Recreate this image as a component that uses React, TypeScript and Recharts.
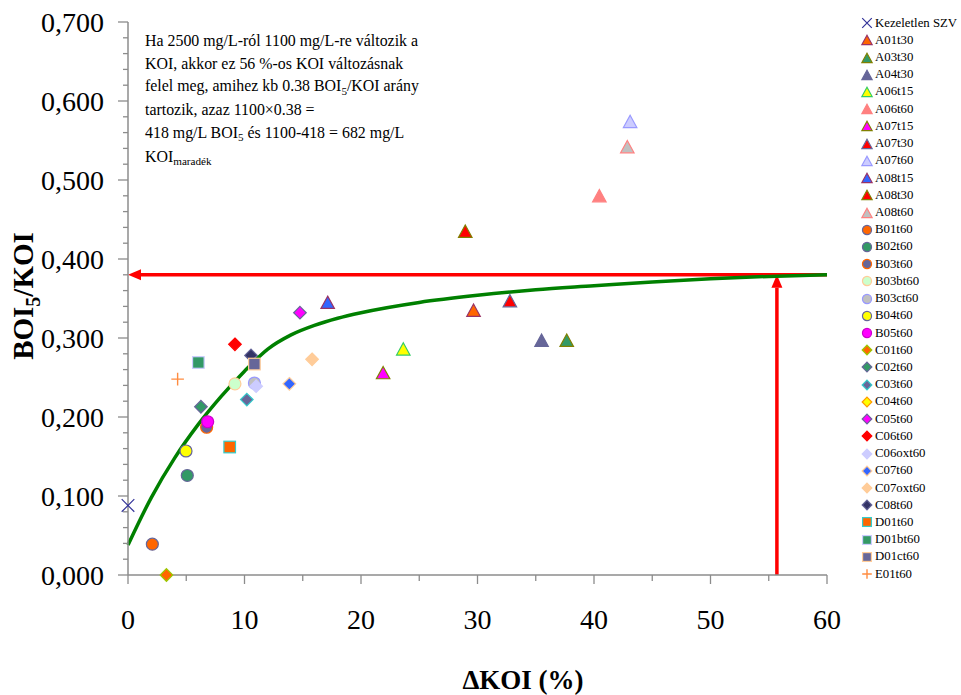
import React from "react";
import { ComposedChart, Scatter, Line, XAxis, YAxis, ReferenceLine } from "recharts";

// one point per treatment (null = not visible)
const seriesNames = [
  "Kezeletlen SZV", "A01t30", "A03t30", "A04t30", "A06t15", "A06t60", "A07t15", "A07t30",
  "A07t60", "A08t15", "A08t30", "A08t60", "B01t60", "B02t60", "B03t60", "B03bt60",
  "B03ct60", "B04t60", "B05t60", "C01t60", "C02t60", "C03t60", "C04t60", "C05t60",
  "C06t60", "C06oxt60", "C07t60", "C07oxt60", "C08t60", "D01t60", "D01bt60", "D01ct60",
  "E01t60",
];
const dKoi = [
  0, 29.66, 37.66, 35.5, 23.63, 40.46, 21.9, 32.78,
  43.1, 17.14, 28.95, 42.86, 2.09, 5.09, 6.75, 9.18,
  10.85, 4.98, 6.84, 3.3, 6.26, 10.2, null, 14.76,
  9.18, 11.0, 13.85, 15.8, 10.56, 8.73, 6.04, 10.85,
  4.26,
];
const boiKoi = [
  0.088, 0.335, 0.297, 0.297, 0.286, 0.48, 0.256, 0.347,
  0.574, 0.345, 0.435, 0.542, 0.039, 0.126, 0.187, 0.242,
  0.243, 0.157, 0.194, 0.0, 0.213, 0.222, null, 0.332,
  0.292, 0.239, 0.242, 0.273, 0.278, 0.162, 0.269, 0.267,
  0.248,
];

// fitted trend line (green)
const curveX = [0, 2, 4, 6, 8, 10, 12, 14, 16, 18, 20, 25, 30, 35, 40, 45, 50, 55, 60];
const curveY = [0.038, 0.098, 0.148, 0.19, 0.226, 0.258, 0.286, 0.304, 0.316, 0.325, 0.332, 0.345, 0.354, 0.361, 0.366, 0.371, 0.375, 0.378, 0.38];

const xTicks = [0, 5, 10, 15, 20, 25, 30, 35, 40, 45, 50, 55, 60];
const yMajor = [0, 0.1, 0.2, 0.3, 0.4, 0.5, 0.6, 0.7];
const yTicks = Array.from({ length: 36 }, (_, i) => Math.round(i * 2) / 100);

const targetKoi = 55.7;
const targetRatio = 0.38;

type Kind = "x" | "tri" | "circle" | "diamond" | "square" | "plus";
const markerStyles: [Kind, string, string][] = [
  ["x", "none", "#333399"],
  ["tri", "#FF6600", "#993366"],
  ["tri", "#339966", "#808000"],
  ["tri", "#666699", "#666699"],
  ["tri", "#FFFF00", "#33CC66"],
  ["tri", "#FF8080", "#FF8080"],
  ["tri", "#FF00FF", "#808000"],
  ["tri", "#FF0000", "#666699"],
  ["tri", "#CCCCFF", "#9999FF"],
  ["tri", "#3366FF", "#993366"],
  ["tri", "#FF0000", "#808000"],
  ["tri", "#C0C0C0", "#FF8080"],
  ["circle", "#FF6600", "#666699"],
  ["circle", "#339966", "#666699"],
  ["circle", "#666699", "#FF6600"],
  ["circle", "#CCFFCC", "#FFCC99"],
  ["circle", "#C0C0C0", "#9999FF"],
  ["circle", "#FFFF00", "#666699"],
  ["circle", "#FF00FF", "#CC00CC"],
  ["diamond", "#FF6600", "#99CC00"],
  ["diamond", "#339966", "#666699"],
  ["diamond", "#666699", "#33CCCC"],
  ["diamond", "#FFFF00", "#FF9900"],
  ["diamond", "#FF00FF", "#666699"],
  ["diamond", "#FF0000", "#FF0000"],
  ["diamond", "#CCCCFF", "#CCCCFF"],
  ["diamond", "#3366FF", "#FFCC99"],
  ["diamond", "#FFCC99", "#FFCC99"],
  ["diamond", "#333366", "#666699"],
  ["square", "#FF6600", "#33CCCC"],
  ["square", "#339966", "#CCCCFF"],
  ["square", "#666699", "#FFCC99"],
  ["plus", "none", "#FF8C40"],
];

const FONT = '"Liberation Serif", "Times New Roman", serif';
const AXIS = "#8c8c8c";

function Marker({ kind, fill, stroke, cx, cy, s = 6.3 }: any) {
  if (kind === "x")
    return (
      <path d={`M${cx - s},${cy - s}L${cx + s},${cy + s}M${cx + s},${cy - s}L${cx - s},${cy + s}`} stroke={stroke} strokeWidth={1.2} fill="none" />
    );
  if (kind === "plus")
    return (
      <path d={`M${cx - s},${cy}L${cx + s},${cy}M${cx},${cy - s}L${cx},${cy + s}`} stroke={stroke} strokeWidth={1.4} fill="none" />
    );
  if (kind === "tri")
    return (
      <polygon
        points={`${cx},${cy - s * 1.0} ${cx + s * 1.07},${cy + s * 0.95} ${cx - s * 1.07},${cy + s * 0.95}`}
        fill={fill}
        stroke={stroke}
        strokeWidth={1.2}
      />
    );
  if (kind === "circle") return <circle cx={cx} cy={cy} r={s * 0.95} fill={fill} stroke={stroke} strokeWidth={1.2} />;
  if (kind === "diamond")
    return (
      <polygon
        points={`${cx},${cy - s} ${cx + s},${cy} ${cx},${cy + s} ${cx - s},${cy}`}
        fill={fill}
        stroke={stroke}
        strokeWidth={1.2}
      />
    );
  return <rect x={cx - s * 0.92} y={cy - s * 0.92} width={s * 1.84} height={s * 1.84} fill={fill} stroke={stroke} strokeWidth={1.2} />;
}

function Arrow(props: any) {
  const { x1, y1, x2, y2 } = props;
  const ang = Math.atan2(y2 - y1, x2 - x1);
  const len = 13;
  const w = 5.5;
  const bx = x2 - len * Math.cos(ang);
  const by = y2 - len * Math.sin(ang);
  const px = -Math.sin(ang) * w;
  const py = Math.cos(ang) * w;
  return (
    <g>
      <line x1={x1} y1={y1} x2={bx} y2={by} stroke="#FF0000" strokeWidth={3.5} />
      <polygon points={`${x2},${y2} ${bx + px},${by + py} ${bx - px},${by - py}`} fill="#FF0000" />
    </g>
  );
}

function XTick({ x, y, payload }: any) {
  const major = payload.value % 10 === 0;
  return (
    <g>
      <line x1={x} x2={x} y1={y} y2={y + (major ? 9 : 6)} stroke={AXIS} strokeWidth={1.3} />
      {major && (
        <text x={x} y={y + 54} textAnchor="middle" fontSize={28} fontFamily={FONT} fill="#000">
          {payload.value}
        </text>
      )}
    </g>
  );
}

function YTick({ x, y, payload }: any) {
  const major = yMajor.some((m) => Math.abs(m - payload.value) < 1e-6);
  return (
    <g>
      <line x1={x - (major ? 10 : 5)} x2={x} y1={y} y2={y} stroke={AXIS} strokeWidth={1.3} />
      {major && (
        <text x={x - 24} y={y} dy="0.35em" textAnchor="end" fontSize={28} fontFamily={FONT} fill="#000">
          {payload.value.toFixed(3).replace(".", ",")}
        </text>
      )}
    </g>
  );
}

const curve = curveX.map((x, i) => ({ x, y: curveY[i] }));

const subStyle = { fontSize: "0.7em", position: "relative" as const, top: "0.3em" };

export default function App() {
  return (
    <div style={{ position: "absolute", left: 0, top: 0, width: 961, height: 695, background: "#fff", fontFamily: FONT }}>
      <ComposedChart width={961} height={695} margin={{ top: 22, right: 134, bottom: 60, left: 28 }}>
        <XAxis
          type="number"
          dataKey="x"
          domain={[0, 60]}
          ticks={xTicks}
          interval={0}
          tickSize={0}
          tickMargin={0}
          tickLine={false}
          axisLine={{ stroke: AXIS, strokeWidth: 1.5 }}
          tick={<XTick />}
          height={60}
          label={{
            content: () => (
              <text x={523} y={689} textAnchor="middle" fontSize={27} fontWeight="bold" fontFamily={FONT} fill="#000">
                ΔKOI (%)
              </text>
            ),
          }}
        />
        <YAxis
          type="number"
          dataKey="y"
          domain={[0, 0.7]}
          ticks={yTicks}
          interval={0}
          tickSize={0}
          tickMargin={0}
          tickLine={false}
          axisLine={{ stroke: AXIS, strokeWidth: 1.5 }}
          tick={<YTick />}
          width={100}
          label={{
            content: () => (
              <text x={33} y={296} transform="rotate(-90 33 296)" textAnchor="middle" fontSize={29} fontWeight="bold" fontFamily={FONT} fill="#000">
                BOI
                <tspan dy={7} fontSize={20}>5</tspan>
                <tspan dy={-7}>/KOI</tspan>
              </text>
            ),
          }}
        />
        <ReferenceLine
          segment={[
            { x: 60, y: targetRatio },
            { x: 0, y: targetRatio },
          ]}
          shape={Arrow}
        />
        <ReferenceLine
          segment={[
            { x: targetKoi, y: 0 },
            { x: targetKoi, y: targetRatio },
          ]}
          shape={Arrow}
        />
        <Line
          data={curve}
          dataKey="y"
          type="monotone"
          stroke="#008000"
          strokeWidth={3.5}
          dot={false}
          activeDot={false}
          isAnimationActive={false}
        />
        {seriesNames.map((name, i) => {
          const [kind, fill, stroke] = markerStyles[i];
          const data = dKoi[i] === null ? [] : [{ x: dKoi[i], y: boiKoi[i] }];
          return (
            <Scatter
              key={name}
              name={name}
              data={data}
              dataKey="y"
              isAnimationActive={false}
              shape={(p: any) => <Marker kind={kind} fill={fill} stroke={stroke} cx={p.cx} cy={p.cy} />}
            />
          );
        })}
      </ComposedChart>

      <div
        style={{
          position: "absolute",
          left: 145,
          top: 30,
          fontSize: 15.9,
          lineHeight: "22.7px",
          whiteSpace: "nowrap",
          color: "#000",
        }}
      >
        Ha 2500 mg/L-ról 1100 mg/L-re változik a<br />
        KOI, akkor ez 56 %-os KOI változásnak<br />
        felel meg, amihez kb 0.38 BOI<span style={subStyle}>5</span>/KOI arány
        <br />
        tartozik, azaz 1100×0.38 =<br />
        418 mg/L BOI<span style={subStyle}>5</span> és 1100-418 = 682 mg/L
        <br />
        KOI<span style={subStyle}>maradék</span>
      </div>

      <div style={{ position: "absolute", left: 860, top: 14.5 }}>
        {seriesNames.map((name, i) => {
          const [kind, fill, stroke] = markerStyles[i];
          return (
            <div key={name} style={{ display: "flex", alignItems: "center", height: 17.22, fontSize: 12.8, whiteSpace: "nowrap" }}>
              <svg width={14} height={14} style={{ marginRight: 1 }}>
                <Marker kind={kind} fill={fill} stroke={stroke} cx={7} cy={7} s={4.8} />
              </svg>
              <span>{name}</span>
            </div>
          );
        })}
      </div>
    </div>
  );
}
